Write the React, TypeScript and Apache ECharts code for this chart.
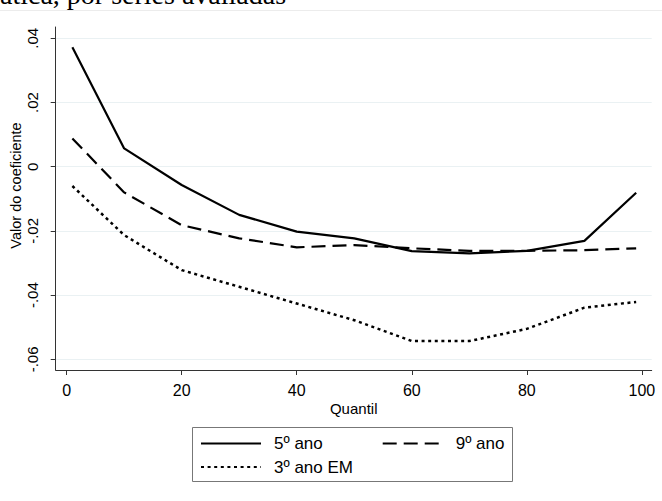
import React, { useEffect, useRef } from "react";
import * as echarts from "echarts";

const quantis = [1, 10, 20, 30, 40, 50, 60, 70, 80, 90, 99];
const ano5 = [0.0372, 0.0057, -0.0057, -0.015, -0.0202, -0.0223, -0.0263, -0.027, -0.0262, -0.0231, -0.0081];
const ano9 = [0.0088, -0.008, -0.0182, -0.0223, -0.0251, -0.0244, -0.0254, -0.0262, -0.0262, -0.026, -0.0254];
const ano3EM = [-0.006, -0.0213, -0.0322, -0.0374, -0.0426, -0.0478, -0.0543, -0.0543, -0.0505, -0.0439, -0.0421];
const yTicks = [-0.06, -0.04, -0.02, 0, 0.02, 0.04];
const xTicks = [0, 20, 40, 60, 80, 100];
const seriesNames = ["5º ano", "9º ano", "3º ano EM"];

const FONT = '"Liberation Sans", Arial, sans-serif';

function fmtY(v: number) {
  if (Math.abs(v) < 1e-9) return "0";
  const s = Math.abs(v).toFixed(2).replace(/^0/, "");
  return (v < 0 ? "-" : "") + s;
}

export default function App() {
  const ref = useRef<HTMLDivElement>(null);
  useEffect(() => {
    document.body.style.margin = "0";
    const chart = echarts.init(ref.current!, null, { renderer: "svg" });
    const pairs = (arr: number[]) => quantis.map((q, i) => [q, arr[i]]);
    const legendBase = {
      padding: 0,
      itemWidth: 60,
      itemHeight: 14,
      selectedMode: false,
      itemStyle: { color: "rgba(0,0,0,0)", borderColor: "rgba(0,0,0,0)", borderWidth: 0, opacity: 0 },
      lineStyle: { opacity: 1 },
      textStyle: { fontFamily: FONT, fontSize: 17, color: "#000", padding: [0, 0, 0, 8] },
    };
    chart.setOption({
      animation: false,
      backgroundColor: "#fff",
      grid: { left: 55.7, right: 10.3, top: 27, bottom: 131, containLabel: false, outerBoundsMode: "none" },
      xAxis: {
        type: "value",
        min: -1.9,
        max: 101.7,
        name: "Quantil",
        nameLocation: "middle",
        nameGap: 31,
        nameMoveOverlap: false,
        nameTextStyle: { fontFamily: FONT, fontSize: 15, color: "#000" },
        axisLine: { show: true, onZero: false, lineStyle: { color: "#333", width: 1 } },
        axisTick: { show: true, length: 5, customValues: xTicks, lineStyle: { color: "#333" } },
        axisLabel: { customValues: xTicks, fontFamily: FONT, fontSize: 16, color: "#000", margin: 12 },
        splitLine: { show: false },
      },
      yAxis: {
        type: "value",
        min: -0.0633,
        max: 0.0435,
        name: "Valor do coeficiente",
        nameLocation: "middle",
        nameGap: 32,
        nameMoveOverlap: false,
        nameTextStyle: { fontFamily: FONT, fontSize: 14.5, color: "#000", padding: [0, 0, 0, 26] },
        axisLine: { show: true, onZero: false, lineStyle: { color: "#333", width: 1 } },
        axisTick: { show: true, length: 5, customValues: yTicks, lineStyle: { color: "#333" } },
        axisLabel: {
          customValues: yTicks,
          rotate: 90,
          formatter: (v: number) => fmtY(v),
          fontFamily: FONT,
          fontSize: 15,
          color: "#000",
          margin: 16,
        },
        splitLine: { show: true, lineStyle: { color: "#eaf1f3", width: 1 } },
      },
      legend: [
        { ...legendBase, data: [seriesNames[0]], left: 200, top: 435 },
        { ...legendBase, data: [seriesNames[1]], left: 381.7, top: 435 },
        { ...legendBase, data: [seriesNames[2]], left: 200, top: 458.5 },
      ],
      graphic: [
        {
          type: "line",
          shape: { x1: 0, y1: 10.5, x2: 662, y2: 10.5 },
          style: { stroke: "#ececec", lineWidth: 1 },
          silent: true,
        },
        {
          type: "text",
          x: 0,
          y: 8.5,
          style: {
            text: "ática, por séries avaliadas",
            font: '28px "Liberation Serif", "Times New Roman", serif',
            fill: "#000",
            verticalAlign: "bottom",
          },
        },
        {
          type: "rect",
          shape: { x: 192.5, y: 427.5, width: 320, height: 54 },
          style: { fill: "none", stroke: "#777", lineWidth: 1 },
          silent: true,
        },
      ],
      series: [
        {
          name: seriesNames[0],
          type: "line",
          data: pairs(ano5),
          symbol: "none",
          lineStyle: { color: "#000", width: 2.2, type: "solid" },
          itemStyle: { color: "#000" },
        },
        {
          name: seriesNames[1],
          type: "line",
          data: pairs(ano9),
          symbol: "none",
          lineStyle: { color: "#000", width: 2.2, type: [14, 7] },
          itemStyle: { color: "#000" },
        },
        {
          name: seriesNames[2],
          type: "line",
          data: pairs(ano3EM),
          symbol: "none",
          lineStyle: { color: "#000", width: 2.5, type: [3, 3.6] },
          itemStyle: { color: "#000" },
        },
      ],
    });
    return () => chart.dispose();
  }, []);
  return <div ref={ref} style={{ position: "absolute", left: 0, top: 0, width: 662, height: 501 }} />;
}
